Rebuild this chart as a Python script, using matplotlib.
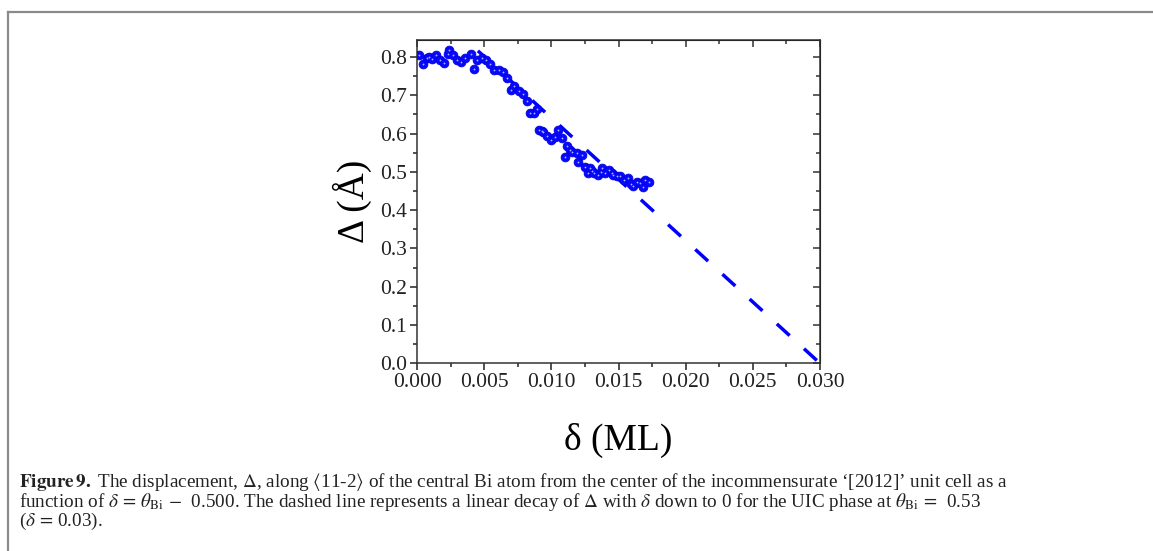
import matplotlib.pyplot as plt
import numpy as np

# measured displacement vs coverage excess
delta = [0.00017, 0.00042, 0.00072, 0.0009, 0.0011, 0.0014, 0.0017, 0.0020,
         0.00234, 0.0024, 0.00266, 0.0030, 0.0033, 0.0036, 0.0040, 0.00425,
         0.00445, 0.0048, 0.0051, 0.0054, 0.0057, 0.0061, 0.0064, 0.0067,
         0.0070, 0.0072, 0.0076, 0.0079, 0.0082, 0.0084, 0.0087, 0.0089,
         0.0091, 0.0093, 0.0094, 0.0097, 0.0100, 0.0103, 0.0105, 0.0108,
         0.0110, 0.0112, 0.0114, 0.0115, 0.0119, 0.0120, 0.0123, 0.0125,
         0.0127, 0.0129, 0.0130, 0.0132, 0.0135, 0.0137, 0.0138, 0.0140,
         0.0143, 0.0145, 0.0146, 0.0149, 0.0151, 0.0154, 0.0157, 0.0159,
         0.0161, 0.0164, 0.0166, 0.0168, 0.0170, 0.0173]
disp = [0.805, 0.781, 0.797, 0.799, 0.794, 0.804, 0.792, 0.783,
        0.807, 0.817, 0.804, 0.792, 0.787, 0.796, 0.807, 0.769,
        0.792, 0.798, 0.792, 0.781, 0.766, 0.766, 0.761, 0.746,
        0.715, 0.724, 0.711, 0.702, 0.685, 0.654, 0.654, 0.663,
        0.610, 0.607, 0.603, 0.593, 0.582, 0.591, 0.609, 0.588,
        0.538, 0.567, 0.556, 0.553, 0.550, 0.527, 0.543, 0.512,
        0.498, 0.510, 0.503, 0.497, 0.492, 0.500, 0.510, 0.497,
        0.506, 0.498, 0.492, 0.488, 0.490, 0.479, 0.484, 0.467,
        0.463, 0.473, 0.470, 0.461, 0.479, 0.473]

# linear decay down to the UIC phase
fit_delta = [0.00453, 0.030]
fit_disp = [0.816, 0.0]

caption_lines = [
    r"$\mathbf{Figure\,9.}$ The displacement, $\Delta$, along "
    r"$\langle$11-2$\rangle$ of the central Bi atom from the center of the "
    "incommensurate ‘[2012]’ unit cell as a",
    r"function of $\delta\,=\,\theta_{\rm Bi}\,-\,$ 0.500. The dashed line "
    r"represents a linear decay of $\Delta$ with $\delta$ down to 0 for the UIC "
    r"phase at $\theta_{\rm Bi}\,=\,$ 0.53",
    r"($\delta\,=\,$0.03).",
]

plt.rcParams["font.family"] = ["Liberation Serif", "DejaVu Serif"]
plt.rcParams["mathtext.fontset"] = "stix"

fig = plt.figure(figsize=(11.53, 5.51), dpi=100)
ax = fig.add_axes([0.3617, 0.3406, 0.3495, 0.5873])

ax.plot(fit_delta, fit_disp, color="#0000ff", lw=2.5, dashes=(5, 5.6),
        dash_capstyle="butt", zorder=2)
ax.plot(delta, disp, "o", ms=6.4, color="#0808ff", mec="#0000d8", mew=0.5,
        zorder=3)
ax.plot(delta, disp, "o", ms=1.3, color="#a8b6ff", mew=0, zorder=4)

ax.set_xlim(0, 0.030)
ax.set_ylim(0, 0.845)
ax.set_xticks(np.arange(0, 0.0301, 0.005))
ax.set_yticks(np.arange(0, 0.81, 0.1))
ax.set_xticks(np.arange(0.0025, 0.03, 0.005), minor=True)
ax.set_yticks(np.arange(0.05, 0.84, 0.1), minor=True)
ax.set_xticklabels([f"{v:.3f}" for v in np.arange(0, 0.0301, 0.005)])
ax.set_yticklabels([f"{v:.1f}" for v in np.arange(0, 0.81, 0.1)])
ax.tick_params(which="both", direction="out", labelsize=15.5, colors="#222222",
               width=1.1, top=False, right=False)
ax.tick_params(which="major", length=5)
ax.tick_params(which="minor", length=3)
ax.tick_params(axis="x", pad=2)
ax.tick_params(axis="y", pad=2)
for sp in ax.spines.values():
    sp.set_linewidth(1.1)
    sp.set_color("#333333")

# mirrored ticks on top and right point inwards
top = ax.secondary_xaxis("top")
top.set_xticks(ax.get_xticks())
top.set_xticks(ax.get_xticks(minor=True), minor=True)
top.tick_params(which="both", direction="in", labeltop=False, width=1.1,
                colors="#333333")
top.tick_params(which="major", length=5)
top.tick_params(which="minor", length=3)
right = ax.secondary_yaxis("right")
right.set_yticks(ax.get_yticks())
right.set_yticks(ax.get_yticks(minor=True), minor=True)
right.tick_params(which="both", direction="in", labelright=False, width=1.1,
                  colors="#333333")
right.tick_params(which="major", length=5)
right.tick_params(which="minor", length=3)

ax.set_xlabel("δ (ML)", fontsize=27, labelpad=22)
ax.set_ylabel("Δ (Å)", fontsize=27, labelpad=6)

# frame lines of the page
fig.add_artist(plt.Line2D([0.0072, 1.0], [0.978, 0.978], color="#8a8a8a", lw=1.6))
fig.add_artist(plt.Line2D([0.0072, 0.0072], [0.0, 0.978], color="#8a8a8a", lw=1.6))

fig.text(0.0165, 0.146, "\n".join(caption_lines), fontsize=13.8, color="#222222",
         va="top", ha="left", linespacing=0.88)

fig.savefig("out.png", dpi=100)
